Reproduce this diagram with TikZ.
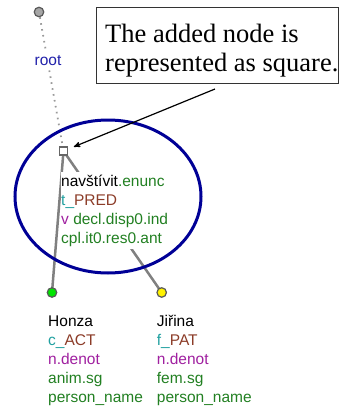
\documentclass[tikz,border=0pt]{standalone}
\usepackage{fontspec}
\setmainfont{Liberation Serif}
\setsansfont{Liberation Sans}
\usepackage{tikz}
\usetikzlibrary{positioning}
\usetikzlibrary{shapes,arrows}
\usetikzlibrary{backgrounds}

\definecolor{treegreen}{RGB}{34,128,34}
\definecolor{functeal}{RGB}{32,160,160}
\definecolor{funcbrown}{RGB}{140,60,40}
\definecolor{sempurple}{RGB}{160,32,160}
\definecolor{rootblue}{RGB}{32,32,170}
\definecolor{ringblue}{RGB}{0,0,150}
\definecolor{edgegray}{RGB}{128,128,128}

\newcommand{\gr}[1]{\textcolor{treegreen}{#1}}
\newcommand{\fn}[2]{\textcolor{functeal}{#1\_}\textcolor{funcbrown}{#2}}
\newcommand{\sm}[1]{\textcolor{sempurple}{#1}}

\tikzset{%
  tnode/.style    = {draw=black!65, circle, line width=1.2pt, inner sep=0pt,
    minimum size=9.5pt},
  rootnode/.style = {tnode, fill=black!35},
  actnode/.style  = {tnode, fill=green!90!black},
  patnode/.style  = {tnode, fill=yellow},
  added/.style    = {draw=black!60, fill=white, rectangle, line width=1.6pt,
    inner sep=0pt, minimum size=8pt}, % new node
  edge/.style     = {draw=edgegray, line width=2.5pt},
  dotline/.style  = {draw=black!40, line width=1.8pt, dash pattern=on 1.6pt off 4.4pt},
  lbl/.style      = {font=\sffamily\fontsize{15.5}{19}\selectfont, align=left,
    fill=white, inner xsep=0pt, inner ysep=3pt},
  ring/.style     = {draw=ringblue, ellipse, line width=3pt, minimum width=186pt,
    minimum height=153pt},
  notebox/.style  = {draw=black!80, line width=1.2pt, rectangle, minimum width=242pt,
    minimum height=76pt},
  notetext/.style = {font=\fontsize{26.5}{29.5}\selectfont, align=left, inner sep=0pt}
}

\begin{document}
\begin{tikzpicture}[x=1pt, y=-1pt, >=stealth']
  \useasboundingbox (0,0) rectangle (340,413);

  % tree nodes
  \draw node at (39,12) [rootnode] (root) {};
  \draw node at (63.5,151) [added] (pred) {};
  \draw node at (52,292.5) [actnode] (act) {};
  \draw node at (161.7,292.5) [patnode] (pat) {};

  \begin{pgfonlayer}{background}
    \draw[dotline] (root) -- (pred);
    \draw[edge] (pred.center) -- (act.center);
    \draw[edge] (pred.center) -- (pat.center);
  \end{pgfonlayer}

  % node labels (base = last line)
  \draw node at (48,65) [lbl, anchor=base, inner xsep=1pt, text=rootblue] (rootlbl) {root};
  \draw node at (61,243) [lbl, anchor=base west] (predlbl)
    {nav\v{s}t\'{\i}vit\gr{.enunc}\\ \fn{t}{PRED}\\ \sm{v} \gr{decl.disp0.ind}\\ \gr{cpl.it0.res0.ant}};
  \draw node at (48,402) [lbl, anchor=base west] (actlbl)
    {Honza\\ \fn{c}{ACT}\\ \sm{n.denot}\\ \gr{anim.sg}\\ \gr{person\_name}};
  \draw node at (156.7,402) [lbl, anchor=base west] (patlbl)
    {Ji\v{r}ina\\ \fn{f}{PAT}\\ \sm{n.denot}\\ \gr{fem.sg}\\ \gr{person\_name}};

  \draw node at (108,196.5) [ring] (circled) {};

  % callout
  \draw node at (96,7) [notebox, anchor=north west] (note) {};
  \draw node at (105,71.5) [notetext, anchor=base west] (notetxt)
    {The added node is\\represented as square.};
  \coordinate (tail) at (215,89);
  \draw[->, line width=1.2pt, shorten >=6pt] (tail) -- (pred);

\end{tikzpicture}
\end{document}
